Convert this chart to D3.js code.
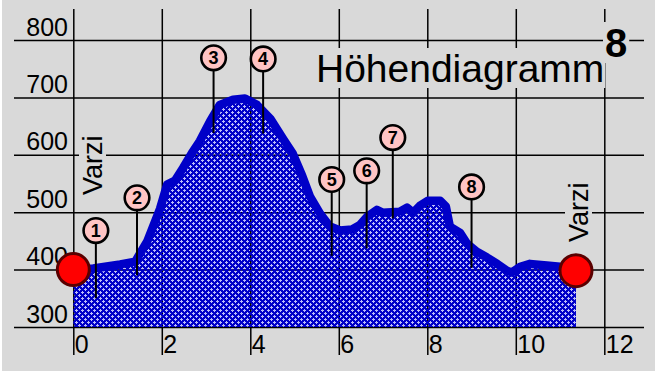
<!DOCTYPE html>
<meta charset="utf-8">
<title>Höhendiagramm</title>
<style>
body { margin: 0; background: #fff; }
text { font-family: Arial, "Liberation Sans", sans-serif; fill: #000; }
</style>
<script src="https://d3js.org/d3.v7.min.js"></script>
<body>
<script>
var width = 655;
var height = 371;

// elevation profile: distance in km, elevation in m
var distKm = [0, 0.45, 1.06, 1.40, 1.67, 1.96, 2.12, 2.30, 2.48, 2.68, 2.86, 3.09, 3.31, 3.61, 3.88,
  4.15, 4.45, 4.74, 4.96, 5.17, 5.35, 5.58, 5.80, 6.03, 6.30, 6.48, 6.64, 6.86, 7.00, 7.38,
  7.54, 7.68, 7.83, 8.01, 8.29, 8.42, 8.51, 8.74, 8.90, 9.12, 9.35, 9.58, 9.80, 9.91, 10.10,
  10.32, 10.70, 11.00, 11.36];
var elev = [400, 402, 409, 414, 449, 506, 548, 555, 577, 603, 624, 658, 687, 696, 698,
  687, 663, 628, 602, 564, 527, 497, 475, 468, 470, 478, 492, 504, 499, 501,
  508, 499, 511, 520, 520, 510, 475, 464, 445, 431, 421, 410, 398, 395, 405,
  410, 407, 405, 398];

var yTicks = [300, 400, 500, 600, 700, 800];
var xTicks = [0, 2, 4, 6, 8, 10, 12];

// numbered waypoints: km, elevation of pin head, elevation of pin foot
var markerLabels = ["1", "2", "3", "4", "5", "6", "7", "8"];
var markerKm = [0.51, 1.44, 3.17, 4.29, 5.84, 6.63, 7.22, 9.0];
var markerHead = [468, 525, 769, 767, 557, 572, 630, 544];
var markerFoot = [350, 390, 638, 637, 424, 437, 489, 403];

var placeName = "Varzi";
var titleText = "Höhendiagramm";
var tourNumber = "8";

var x = d3.scaleLinear().domain([0, 12]).range([73.3, 604.3]);
var y = d3.scaleLinear().domain([300, 800]).range([327, 40]);

var svg = d3.select("body").append("svg")
    .attr("width", width)
    .attr("height", height);

svg.append("rect")
    .attr("x", 2).attr("y", 0)
    .attr("width", width - 2).attr("height", height)
    .attr("fill", "#d9d9d9");

// hatch: blue with transparent holes so the grid shows through
var pat = svg.append("defs").append("pattern")
    .attr("id", "hatch")
    .attr("patternUnits", "userSpaceOnUse")
    .attr("width", 6).attr("height", 6);
pat.append("path")
    .attr("fill-rule", "evenodd")
    .attr("fill", "#0000c8")
    .attr("d", "M0 0H6V6H0Z M1 0H2V1H3V2H2V3H1V2H0V1H1Z M4 3H5V4H6V5H5V6H4V5H3V4H4Z");

var pts = distKm.map(function(d, i) { return [d, elev[i]]; });

var area = d3.area()
    .x(function(d) { return x(d[0]); })
    .y0(y(300))
    .y1(function(d) { return y(d[1]); });
var line = d3.line()
    .x(function(d) { return x(d[0]); })
    .y(function(d) { return y(d[1]); });

svg.append("path")
    .datum(pts)
    .attr("d", area)
    .attr("fill", "#bcbcfa");

// horizontal grid + labels
var gy = svg.append("g")
    .attr("transform", "translate(14,0)")
    .call(d3.axisRight(y).tickValues(yTicks).tickSize(630).tickFormat(d3.format("d")));
gy.select(".domain").remove();
gy.selectAll(".tick line").attr("stroke", "#000").attr("stroke-width", 1.5);
gy.selectAll(".tick text")
    .attr("x", 54).attr("dy", -5)
    .attr("text-anchor", "end")
    .attr("font-size", 25)
    .attr("font-family", "Arial, 'Liberation Sans', sans-serif")
    .attr("fill", "#000");

// vertical grid + labels
var gx = svg.append("g")
    .attr("transform", "translate(0,9)")
    .call(d3.axisBottom(x).tickValues(xTicks).tickSize(346).tickFormat(d3.format("d")));
gx.select(".domain").remove();
gx.selectAll(".tick line").attr("stroke", "#000").attr("stroke-width", 1.5);
gx.selectAll(".tick text")
    .attr("x", 1).attr("y", 344).attr("dy", 0)
    .attr("text-anchor", "start")
    .attr("font-size", 25)
    .attr("font-family", "Arial, 'Liberation Sans', sans-serif")
    .attr("fill", "#000");

svg.append("path")
    .datum(pts)
    .attr("d", area)
    .attr("fill", "url(#hatch)");

svg.append("path")
    .datum(pts)
    .attr("d", line)
    .attr("fill", "none")
    .attr("stroke", "#0000c8")
    .attr("stroke-width", 8.5)
    .attr("stroke-linejoin", "round");

// waypoint pins
var pins = svg.append("g").selectAll("g")
    .data(markerLabels)
  .enter().append("g");
pins.append("line")
    .attr("x1", function(d, i) { return x(markerKm[i]); })
    .attr("x2", function(d, i) { return x(markerKm[i]); })
    .attr("y1", function(d, i) { return y(markerHead[i]); })
    .attr("y2", function(d, i) { return y(markerFoot[i]); })
    .attr("stroke", "#000")
    .attr("stroke-width", 2);
pins.append("circle")
    .attr("cx", function(d, i) { return x(markerKm[i]); })
    .attr("cy", function(d, i) { return y(markerHead[i]); })
    .attr("r", 12.3)
    .attr("fill", "#ffc4c4")
    .attr("stroke", "#000")
    .attr("stroke-width", 2.6);
pins.append("text")
    .attr("x", function(d, i) { return x(markerKm[i]); })
    .attr("y", function(d, i) { return y(markerHead[i]); })
    .attr("dy", "0.36em")
    .attr("text-anchor", "middle")
    .attr("font-size", 18)
    .attr("font-weight", "bold")
    .text(function(d) { return d; });

// start / end
var ends = [pts[0], pts[pts.length - 1]];
svg.append("g").selectAll("circle")
    .data(ends)
  .enter().append("circle")
    .attr("cx", function(d) { return x(d[0]); })
    .attr("cy", function(d) { return y(d[1]); })
    .attr("r", 16)
    .attr("fill", "#ff0000")
    .attr("stroke", "#5a0000")
    .attr("stroke-width", 3);

function boxedText(g, pad) {
  var b = g.node().getBBox();
  g.insert("rect", "text")
      .attr("x", b.x - pad).attr("y", b.y + 1)
      .attr("width", b.width + 2 * pad).attr("height", b.height - 3)
      .attr("fill", "#d9d9d9");
}

// place names
[[102, 195], [588, 242]].forEach(function(p) {
  var g = svg.append("g").attr("transform", "translate(" + p[0] + "," + p[1] + ") rotate(-90)");
  g.append("text")
      .attr("font-size", 27)
      .text(placeName);
  boxedText(g, 2);
});

// title
var tg = svg.append("g");
tg.append("text")
    .attr("x", 316).attr("y", 82)
    .attr("font-size", 39)
    .text(titleText);
boxedText(tg, 1);

var ng = svg.append("g");
ng.append("text")
    .attr("x", 605).attr("y", 57)
    .attr("font-size", 40)
    .attr("font-weight", "bold")
    .text(tourNumber);
boxedText(ng, 2);
</script>
